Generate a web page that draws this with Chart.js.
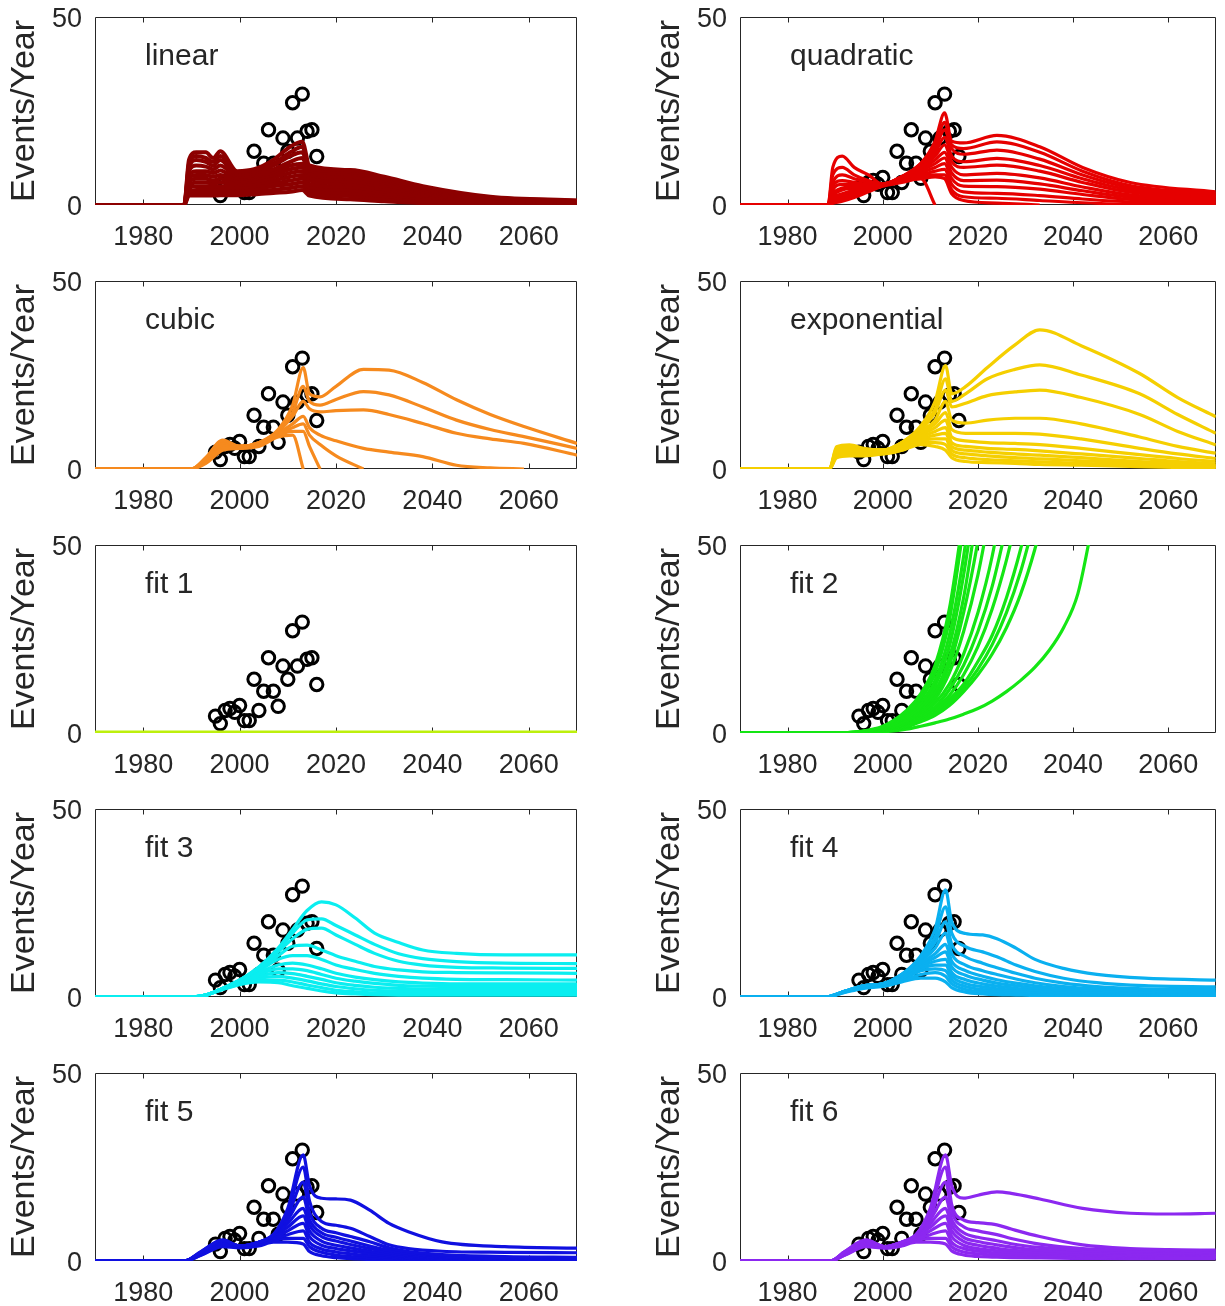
<!DOCTYPE html>
<html><head><meta charset="utf-8">
<script src="https://cdn.jsdelivr.net/npm/chart.js@4.4.0/dist/chart.umd.min.js"></script>
<style>
html,body{margin:0;padding:0;background:#fff;}
#wrap{position:relative;width:1225px;height:1306px;background:#fff;overflow:hidden;}
canvas{position:absolute;}
</style></head><body><div id="wrap"></div>
<script>
// ---- axes ----
const xTickValues = [1980, 2000, 2020, 2040, 2060];
const yTickValues = [0, 50];
const xRange = [1970, 2070];
const yRange = [0, 50];

// ---- observed events ----
const obsYears  = [1995,1996,1997,1998,1999,2000,2001,2002,2003,2004,2005,2006,2007,2008,2009,2010,2011,2012,2013,2014,2015,2016];
const obsValues = [4.5,2.5,6,6.5,5.5,7.3,3.3,3.3,14.3,6,11.1,20,11.1,7.1,17.8,14.3,27.2,17.8,29.5,19.6,20,12.9];

// ---- linear ----
const linearYears = [1970,1988.5,1989.5,1991,1993,1994.5,1996,1999.5,2003,2007,2010.5,2013,2014.5,2023,2030,2038,2052,2070];
const linearSeries = [
 [0,0,12,14,14,12.5,14.3,9,9.5,12,15.5,16.8,10.5,9.3,7.5,5,2.2,1.2],
 [0,0,11,13,12.5,11.5,13,8.5,9,11,14,15.5,9.8,8.8,7,4.6,2,1.1],
 [0,0,10,12,11.5,10.5,12,8,8.5,10.5,13,14,9.2,8.3,6.5,4.2,1.8,1],
 [0,0,9,10.5,10.2,9.5,10.5,7.5,8,9.5,11.5,12.5,8.5,7.5,6,3.8,1.6,0.9],
 [0,0,8,9,9,8.5,9.2,7,7.5,8.8,10.5,11,8,7,5.4,3.4,1.4,0.8],
 [0,0,7,8,8,7.5,8,6.5,7,8,9.5,10,7.2,6.3,4.8,3,1.2,0.7],
 [0,0,6,7,7,6.5,7,6,6.3,7.3,8.5,9,6.5,5.6,4.2,2.6,1,0.6],
 [0,0,5,6,6,5.7,6,5.3,5.7,6.5,7.5,8,5.6,4.8,3.6,2.2,0.9,0.5],
 [0,0,4.5,5,5,4.8,5,4.6,5,5.7,6.5,7,4.8,4,3,1.8,0.7,0.4],
 [0,0,3.5,4,4,4,4.2,4,4.3,5,5.5,6,4,3.2,2.4,1.4,0.5,0.3],
 [0,0,3,3.2,3.2,3.2,3.3,3.2,3.5,4,4.5,5,3.2,2.4,1.7,1,0.4,0.2],
 [0,0,2.5,2.5,2.5,2.5,2.6,2.6,2.8,3.2,3.5,4,2.5,1.5,1,0.5,0.2,0.1]
];

// ---- quadratic ----
const quadYears = [1970,1988.5,1989.5,1991.5,1994,1997,2000,2004,2008,2011,2013,2014.5,2017,2024,2033,2042,2052,2070];
const quadSeries = [
 [0,0,10,13,10,8,5.5,7,11,17,24.5,17,16.5,18.5,15.5,10,6,3.5],
 [0,0,8,10,8,6.5,5.5,7.5,11,16,22,16,15,16.8,14,9,5.2,3],
 [0,0,6,8,7,6,5.5,7.5,11,15,20,15,13.5,14.6,12.2,8,4.6,2.6],
 [0,0,5,6.5,6,5.5,5.5,7.5,10.5,14,18,13,11.5,12.4,10.5,7,4,2.3],
 [0,0,4,5.5,5.5,5.5,5.5,7.5,10,13,16,11.5,10,10.6,9,6,3.4,2],
 [0,0,3,4.5,5,5.5,5.5,7.5,9.5,12,14,10,8,8.4,7.2,4.8,2.7,1.6],
 [0,0,2.5,4,4.5,5,5.5,7,9,11,12.5,8.5,6.5,6.6,5.6,3.8,2.1,1.2],
 [0,0,2,3,4,5,5.5,7,8.5,10,11,7,5,4.9,4.2,2.8,1.5,0.8],
 [0,0,1.5,2.5,3.5,4.5,5.5,7,8,9,9.5,5.5,3.5,3.1,2.5,1.6,0.8,0.4],
 [0,0,1,2,3,4.5,5.5,6.5,7.5,8,8,4,2.2,1.8,1.2,0.6,0.2,0],
 [0,0,0.5,1.5,2.5,4,5.5,6.5,7,7.5,7,3,1.2,0.5,0,null,null,null],
 [0,0,0.5,1,2,3.5,5,6,7,0,null,null,null,null,null,null,null,null]
];

// ---- cubic ----
const cubicYears = [1970,1990,1993,1996.5,2000,2004,2008,2011,2013.2,2014.5,2016.7,2020,2025.7,2031,2038,2045,2052,2059,2070];
const cubicSeries = [
 [0,0,3,7.7,6,7,10.5,17,27,20,19.2,22,26.5,26.3,23,18.4,14.5,11.3,6.8],
 [0,0,3,7.5,6,7,10,15,22,18,17,18.5,20.6,19.7,16.5,13,10.5,8.6,5.5],
 [0,0,2.5,7,6,7,10,14,18,16,15.2,15.5,15.7,14.5,12.1,9.5,8,6.8,3.7],
 [0,0,2.5,6.5,6,6.8,9.5,12,14,11,9,7.5,5.5,4.5,3.3,1,0.3,0,null],
 [0,0,2,6,6,6.5,9,11,12,9,6.5,3.5,0,null,null,null,null,null,null],
 [0,0,2,5.5,5.5,6.5,9,10,10,6,0,null,null,null,null,null,null,null,null],
 [0,0,1.5,5,5.5,6,8.5,9,0,null,null,null,null,null,null,null,null,null,null]
];

// ---- exponential ----
const expYears = [1970,1988.8,1990.3,1993,1996,2000,2004,2008,2011,2013.2,2014.5,2017.4,2022,2027.8,2033,2041.7,2054,2062,2070];
const expSeries = [
 [0,0,5.9,6.4,5.5,5,7,11.5,18,27.5,20,21.9,27,33,37,32.8,25.4,19,13.9],
 [0,0,5.5,6,5,5,7,11,16,24,18,20,24,26.5,27.7,25,20,14.5,9.5],
 [0,0,5,5.5,5,5,7,10.5,15,21,16.5,17.5,19.5,20.5,21,19,14.5,10,6.4],
 [0,0,5,5.5,5,5,6.5,10,13,18,13,12.2,13,13.5,13.5,12,8.5,6,4.2],
 [0,0,4.5,5,5,5,6.5,9.5,12,15,10.5,9.5,9.5,9.5,9.3,8,5.5,4,2.8],
 [0,0,4.5,5,4.5,4.5,6,9,11,13,8.5,7.5,7,6.8,6.5,5.5,3.8,2.8,2],
 [0,0,4,4.5,4.5,4.5,6,8.5,10,11,7,6,5.5,5.2,4.8,4,2.8,2,1.4],
 [0,0,4,4.5,4.5,4.5,5.5,8,9,9.5,6,5,4.5,4,3.7,3,2,1.5,1],
 [0,0,3.5,4,4,4.5,5.5,7.5,8,8,5,4,3.5,3,2.7,2.2,1.5,1,0.7],
 [0,0,3.5,4,4,4,5,7,7,6.5,4,3,2.5,2.2,1.9,1.5,1,0.7,0.5],
 [0,0,3,3.5,3.5,4,5,6.5,6,5,3,2,1.7,1.5,1.2,1,0.6,0.4,0.3]
];

// ---- fit 1 ----
const fit1Years = [1970, 2070];
const fit1Series = [[0, 0]];

// ---- fit 2 ----
const fit2Years = [1970,1990,1995,2000,2005,2008,2011,2014,2017,2020,2023,2026,2029,2032,2035,2038,2041,2044];
const fit2Series = [
 [0,0,0.4,1.8,6,10.5,18,33,58,null,null,null,null,null,null,null,null,null],
 [0,0,0.3,1.6,5.5,9.5,17,31,56,null,null,null,null,null,null,null,null,null],
 [0,0,0.3,1.5,5,9,16,30,55,null,null,null,null,null,null,null,null,null],
 [0,0,0.3,1.3,4.5,8,14,26,47,75,null,null,null,null,null,null,null,null],
 [0,0,0.2,1.2,4,7,12.5,23,42,68,null,null,null,null,null,null,null,null],
 [0,0,0.2,1.1,3.5,6.5,11,20,36,60,null,null,null,null,null,null,null,null],
 [0,0,0.2,1,3.2,6,10,18,32,51,75,null,null,null,null,null,null,null],
 [0,0,0.2,1,3,5.5,9,16,27,42,62,null,null,null,null,null,null,null],
 [0,0,0.1,0.9,2.7,5,8,13,21,32,47,68,null,null,null,null,null,null],
 [0,0,0.1,0.8,2.5,4.5,7,11.5,18,27,39,55,null,null,null,null,null,null],
 [0,0,0.1,0.7,2.3,4,6.3,10,15.5,23,33,46,62,null,null,null,null,null],
 [0,0,0.1,0.6,2,3.5,5.5,9,13,19,26,36,49,65,null,null,null,null],
 [0,0,0.1,0.6,1.8,3.2,5,8,12,17,23.5,32,43,57,null,null,null,null],
 [0,0,0.1,0.5,1.6,3,4.7,7.3,11,15.5,21,28,37,49,64,null,null,null],
 [0,0,0,0.3,1,1.8,2.7,3.7,5,6.5,8.5,11,14,17.5,22,28,37,55]
];

// ---- fit 3 ----
const fit3Years = [1970,1990,1993,1996,2000,2004,2008,2011,2014,2017,2020,2024,2028,2033,2038,2045,2055,2070];
const fit3Series = [
 [0,0,0.5,2,4.5,8,13,18,23,25.3,24.5,21,17,14.5,12.5,11.6,11.2,11.2],
 [0,0,0.5,2,4.5,8,12.5,17,20.5,20.8,19,16.5,14,11.5,10.2,9.4,9,8.9],
 [0,0,0.5,2,4.5,7.5,12,15.5,18,18.3,16.5,14,11.6,9.5,8.5,7.9,7.7,7.6],
 [0,0,0.5,2,4.5,7.5,11,13.5,13.8,12.5,11,9.5,8.1,7.2,6.7,6.5,6.4,6.3],
 [0,0,0.5,2,4.5,7,10,11,11,10,8.5,7.3,6.3,5.5,5,4.7,4.6,4.5],
 [0,0,0.5,2,4,6.5,8.5,9,8.5,7.5,6.3,5.3,4.6,4,3.7,3.5,3.5,3.5],
 [0,0,0.5,2,4,6,7.5,7.5,7,6,5,4.2,3.6,3.1,2.9,2.8,2.8,2.8],
 [0,0,0.5,2,4,5.5,6.5,6.2,5.5,4.7,3.8,3.1,2.6,2.3,2.1,2,2,2],
 [0,0,0.5,2,3.8,5,5.5,5,4.3,3.5,2.8,2.2,1.8,1.6,1.5,1.5,1.5,1.5],
 [0,0,0.5,1.8,3.5,4.5,4.5,4,3.2,2.5,1.8,1.4,1.1,1,1,1,1,1],
 [0,0,0.5,1.8,3.3,4,3.8,3,2.3,1.6,1.1,0.8,0.6,0.5,0.5,0.5,0.5,0.5]
];

// ---- fit 4 ----
const fit4Years = [1970,1988,1992,1996,2000,2004,2008,2011,2013.2,2014.5,2017.4,2021,2024,2028,2032,2038,2045,2055,2070];
const fit4Series = [
 [0,0,1.5,3,3.5,6,11,18,28.5,20,16.9,16.5,15.5,13,10,7.6,6,5,4.5],
 [0,0,1.5,3,3.5,6,10.5,16,24,17,13.4,12,10.7,8.5,6.8,5,3.8,3,2.7],
 [0,0,1.5,3,3.5,6,10,14.5,20,14,10.7,9,7.8,6.3,5,3.7,2.8,2.2,2],
 [0,0,1.5,3,3.5,5.5,9.5,13,17,11.5,8.5,7,6,4.8,3.8,2.8,2.2,1.8,1.6],
 [0,0,1.5,2.8,3.5,5.5,9,11.5,14,9.5,7,5.5,4.6,3.7,3,2.2,1.8,1.4,1.2],
 [0,0,1.5,2.8,3.5,5.5,8.5,10.5,12,8,5.8,4.5,3.7,3,2.4,1.8,1.4,1.1,1],
 [0,0,1.5,2.8,3.3,5,8,9.5,10,6.5,4.6,3.5,2.9,2.3,1.8,1.4,1.1,0.9,0.8],
 [0,0,1.5,2.8,3.3,5,7.5,8.5,8.5,5.5,3.6,2.7,2.2,1.7,1.4,1.1,0.9,0.7,0.6],
 [0,0,1.4,2.6,3.2,4.5,7,7.5,7,4.5,2.8,2,1.6,1.3,1,0.8,0.6,0.5,0.4],
 [0,0,1.3,2.5,3,4.2,6,6.5,5.5,3.5,2,1.4,1.1,0.9,0.7,0.5,0.4,0.3,0.3],
 [0,0,1.2,2.3,2.8,4,5,5,4,2.5,1.3,0.8,0.6,0.5,0.4,0.3,0.2,0.2,0.2]
];

// ---- fit 5 ----
const fit5Years = [1970,1988.5,1992,1996.5,2000,2004,2007,2010,2013.2,2014.5,2017,2020,2023,2027,2031,2035,2042,2055,2070];
const fit5Series = [
 [0,0,2.5,5.6,4,5,7,14,28.2,20,16.7,16.5,16.2,13.5,10,7.8,5.1,3.8,3.4],
 [0,0,2.5,5.5,4,5,7,13,25,16,10.5,9.5,8.7,6.5,4.3,3.3,2.6,2.3,2.2],
 [0,0,2.3,5.3,4,5,7,12,21,13,8.7,7.5,6.5,5.1,3.5,2.5,1.7,1.2,1],
 [0,0,2.3,5,4,5,6.8,11,17,11,7.5,6.3,5.3,4,2.8,2,1.3,0.9,0.8],
 [0,0,2.2,5,4,5,6.5,10,14,9.5,6.5,5.3,4.4,3.3,2.3,1.6,1,0.7,0.6],
 [0,0,2,4.8,4,4.8,6.3,9,12,8,5.3,4.2,3.5,2.6,1.8,1.2,0.8,0.5,0.4],
 [0,0,2,4.5,3.8,4.5,6,8,10,6.5,4.2,3.3,2.7,2,1.4,0.9,0.6,0.4,0.3],
 [0,0,1.8,4.2,3.8,4.5,5.8,7,8,5,3.2,2.4,1.9,1.4,1,0.7,0.4,0.3,0.2],
 [0,0,1.6,4,3.6,4.3,5.5,6,6,3.8,2.3,1.6,1.2,0.9,0.6,0.4,0.3,0.2,0.1],
 [0,0,1.5,3.8,3.5,4,5,5,4.5,2.5,1.4,0.9,0.6,0.4,0.3,0.2,0.1,0.1,0.1]
];

// ---- fit 6 ----
const fit6Years = [1970,1989,1992,1996.5,2000.5,2004,2007,2010,2013.2,2014.5,2017,2020,2024,2027,2033,2042,2052,2060,2070];
const fit6Series = [
 [0,0,2.5,5.6,3.8,5,7,14,28.2,20,16.7,17.5,18.4,18,16.5,14,12.7,12.5,12.7],
 [0,0,2.5,5.5,3.8,5,7,13,25,15,10.9,10.2,9.6,8.5,6.5,4.3,3.3,3,2.9],
 [0,0,2.3,5.3,3.8,5,7,12,21,13,9.1,8,7,6,4.5,3.3,2.8,2.6,2.5],
 [0,0,2.3,5,3.8,5,6.8,11,17,11,7.5,6.3,5.4,4.6,3.6,2.8,2.4,2.2,2.1],
 [0,0,2.2,5,3.8,5,6.5,10,14,9.5,6.3,5.2,4.3,3.7,2.9,2.3,2,1.9,1.8],
 [0,0,2,4.8,3.8,4.8,6.3,9,12,8,5.2,4.2,3.4,2.9,2.3,1.9,1.7,1.6,1.5],
 [0,0,2,4.5,3.6,4.5,6,8,10,6.5,4.2,3.3,2.7,2.3,1.9,1.6,1.4,1.3,1.3],
 [0,0,1.8,4.2,3.6,4.5,5.8,7,8,5,3.3,2.6,2.1,1.8,1.5,1.3,1.1,1,1],
 [0,0,1.6,4,3.5,4.3,5.5,6,6,3.8,2.4,1.9,1.5,1.3,1.1,0.9,0.8,0.8,0.8],
 [0,0,1.5,3.8,3.4,4,5,5,4.5,2.7,1.6,1.2,1,0.9,0.8,0.7,0.6,0.6,0.6]
];

// ---- panel table ----
const panels = [
 {label:'linear',      color:'#8c0000', years:linearYears, series:linearSeries, col:0, row:0, width:4},
 {label:'quadratic',   color:'#e60000', years:quadYears,   series:quadSeries,   col:1, row:0},
 {label:'cubic',       color:'#f68a1e', years:cubicYears,  series:cubicSeries,  col:0, row:1},
 {label:'exponential', color:'#f5cf00', years:expYears,    series:expSeries,    col:1, row:1},
 {label:'fit 1',       color:'#bdf00c', years:fit1Years,   series:fit1Series,   col:0, row:2, width:5},
 {label:'fit 2',       color:'#14e614', years:fit2Years,   series:fit2Series,   col:1, row:2},
 {label:'fit 3',       color:'#0aeef0', years:fit3Years,   series:fit3Series,   col:0, row:3},
 {label:'fit 4',       color:'#0ab0f0', years:fit4Years,   series:fit4Series,   col:1, row:3},
 {label:'fit 5',       color:'#1010e0', years:fit5Years,   series:fit5Series,   col:0, row:4},
 {label:'fit 6',       color:'#8c28f0', years:fit6Years,   series:fit6Series,   col:1, row:4}
];

const FONT = "'Liberation Sans', Arial, sans-serif";
const TXT = '#262626';

const boxPlugin = {
 id: 'boxPlugin',
 beforeDatasetsDraw(chart) {
  const {ctx, chartArea: a, scales: {x, y}} = chart;
  ctx.save();
  ctx.strokeStyle = TXT; ctx.lineWidth = 1;
  const L = Math.round(a.left) + 0.5, R = Math.round(a.right) - 0.5;
  const T = Math.round(a.top) + 0.5, B = Math.round(a.bottom) - 0.5;
  ctx.beginPath();
  ctx.rect(L, T, R - L, B - T);
  xTickValues.forEach(v => {
   const px = Math.round(x.getPixelForValue(v)) + 0.5;
   ctx.moveTo(px, B); ctx.lineTo(px, B - 5);
   ctx.moveTo(px, T); ctx.lineTo(px, T + 5);
  });
  ctx.stroke();
  ctx.fillStyle = TXT;
  ctx.font = '27px ' + FONT;
  ctx.textAlign = 'right';
  ctx.textBaseline = 'middle';
  yTickValues.forEach(v => {
   ctx.fillText(String(v), a.left - 13, y.getPixelForValue(v) + 3);
  });
  ctx.restore();
 },
 afterDatasetsDraw(chart, args, opts) {
  const {ctx, chartArea: a} = chart;
  ctx.save();
  ctx.fillStyle = TXT;
  ctx.font = '30px ' + FONT;
  ctx.textBaseline = 'middle';
  ctx.textAlign = 'left';
  ctx.fillText(opts.text, a.left + 50, a.top + 40);
  ctx.restore();
 }
};

const wrap = document.getElementById('wrap');
panels.forEach(p => {
 const cv = document.createElement('canvas');
 const left = p.col === 0 ? 0 : 645;
 const w = p.col === 0 ? 590 : 580;
 cv.width = w; cv.height = 264;
 cv.style.left = left + 'px'; cv.style.top = (264 * p.row) + 'px';
 cv.style.width = w + 'px'; cv.style.height = '264px';
 wrap.appendChild(cv);
 const datasets = p.series.map(vals => ({
  data: p.years.map((yr, i) => ({x: yr, y: vals[i]})),
  borderColor: p.color, borderWidth: p.width || 3.2, pointRadius: 0, fill: false,
  cubicInterpolationMode: 'monotone'
 }));
 datasets.push({
  data: obsYears.map((yr, i) => ({x: yr, y: obsValues[i]})),
  showLine: false, pointRadius: 6.2, pointBorderWidth: 3,
  pointBorderColor: '#000', pointBackgroundColor: 'rgba(0,0,0,0)', borderColor: '#000'
 });
 new Chart(cv, {
  type: 'line',
  data: {datasets},
  plugins: [boxPlugin],
  options: {
   animation: false, responsive: false, devicePixelRatio: 1,
   layout: {padding: {top: 17, left: 0, bottom: 0, right: p.col === 0 ? 13 : 3}},
   plugins: {legend: {display: false}, tooltip: {enabled: false}, boxPlugin: {text: p.label}},
   scales: {
    x: {
     type: 'linear', min: xRange[0], max: xRange[1],
     afterBuildTicks: s => { s.ticks = xTickValues.map(v => ({value: v})); },
     afterFit: s => { s.height = 59; },
     grid: {display: false, drawTicks: false}, border: {display: false},
     ticks: {padding: 16, color: TXT, font: {family: FONT, size: 27}, maxRotation: 0, autoSkip: false, callback: v => String(v)}
    },
    y: {
     type: 'linear', min: yRange[0], max: yRange[1],
     afterBuildTicks: s => { s.ticks = yTickValues.map(v => ({value: v})); },
     afterFit: s => { s.width = 95; },
     grid: {display: false, drawTicks: false}, border: {display: false},
     ticks: {display: false},
     title: {display: true, text: 'Events/Year', color: TXT, font: {family: FONT, size: 34}, padding: {top: 4, bottom: 0}}
    }
   }
  }
 });
});
</script></body></html>
